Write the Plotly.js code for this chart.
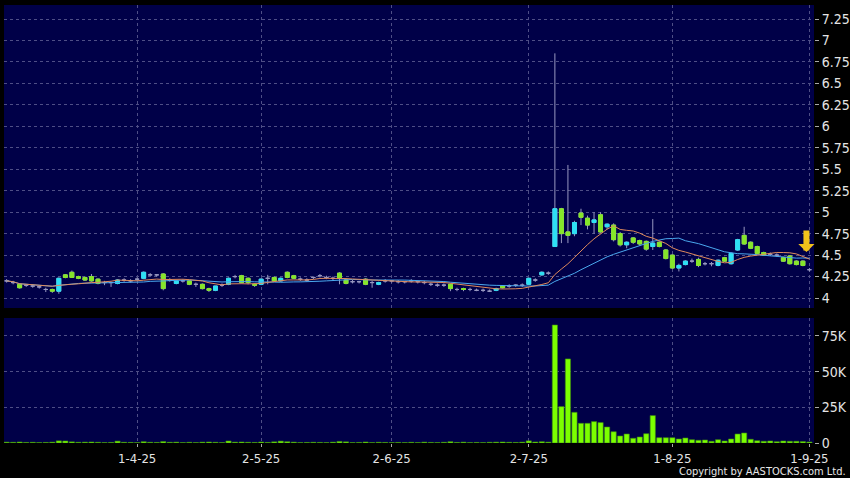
<!DOCTYPE html>
<html><head><meta charset="utf-8">
<script src="https://cdn.plot.ly/plotly-3.0.1.min.js"></script>
<style>html,body{margin:0;padding:0;background:#000;}#chart{width:850px;height:478px;}</style>
</head><body><div id="chart"></div>
<script>
const dates = [
'2025-03-04','2025-03-05','2025-03-06','2025-03-07','2025-03-10','2025-03-11','2025-03-12','2025-03-13','2025-03-14','2025-03-17',
'2025-03-18','2025-03-19','2025-03-20','2025-03-21','2025-03-24','2025-03-25','2025-03-26','2025-03-27','2025-03-28','2025-03-31',
'2025-04-01','2025-04-02','2025-04-03','2025-04-07','2025-04-08','2025-04-09','2025-04-10','2025-04-11','2025-04-14','2025-04-15',
'2025-04-16','2025-04-17','2025-04-22','2025-04-23','2025-04-24','2025-04-25','2025-04-28','2025-04-29','2025-04-30','2025-05-02',
'2025-05-06','2025-05-07','2025-05-08','2025-05-09','2025-05-12','2025-05-13','2025-05-14','2025-05-15','2025-05-16','2025-05-19',
'2025-05-20','2025-05-21','2025-05-22','2025-05-23','2025-05-26','2025-05-27','2025-05-28','2025-05-29','2025-05-30','2025-06-02',
'2025-06-03','2025-06-04','2025-06-05','2025-06-06','2025-06-09','2025-06-10','2025-06-11','2025-06-12','2025-06-13','2025-06-16',
'2025-06-17','2025-06-18','2025-06-19','2025-06-20','2025-06-23','2025-06-24','2025-06-25','2025-06-26','2025-06-27','2025-06-30',
'2025-07-02','2025-07-03','2025-07-04','2025-07-07','2025-07-08','2025-07-09','2025-07-10','2025-07-11','2025-07-14','2025-07-15',
'2025-07-16','2025-07-17','2025-07-18','2025-07-21','2025-07-22','2025-07-23','2025-07-24','2025-07-25','2025-07-28','2025-07-29',
'2025-07-30','2025-07-31','2025-08-01','2025-08-04','2025-08-05','2025-08-06','2025-08-07','2025-08-08','2025-08-11','2025-08-12',
'2025-08-13','2025-08-14','2025-08-15','2025-08-18','2025-08-19','2025-08-20','2025-08-21','2025-08-22','2025-08-25','2025-08-26',
'2025-08-27','2025-08-28','2025-08-29','2025-09-01'];

const open = [
4.20,4.18,4.16,4.15,4.14,4.13,4.10,4.10,4.08,4.27,
4.30,4.25,4.24,4.25,4.22,4.18,4.18,4.17,4.21,4.20,
4.22,4.23,4.27,4.27,4.28,4.21,4.17,4.20,4.20,4.16,
4.16,4.11,4.09,4.15,4.16,4.25,4.26,4.23,4.16,4.16,
4.23,4.24,4.20,4.30,4.26,4.22,4.21,4.24,4.26,4.24,
4.23,4.29,4.21,4.19,4.19,4.22,4.18,4.16,4.20,4.20,
4.19,4.19,4.20,4.19,4.18,4.16,4.15,4.15,4.16,4.10,
4.11,4.10,4.09,4.09,4.08,4.09,4.14,4.14,4.15,4.15,
4.16,4.21,4.27,4.29,4.60,5.04,4.77,4.75,4.99,4.93,
4.88,4.97,4.83,4.85,4.75,4.62,4.70,4.67,4.66,4.60,
4.65,4.56,4.50,4.35,4.39,4.43,4.45,4.40,4.40,4.38,
4.47,4.40,4.56,4.73,4.65,4.60,4.53,4.51,4.50,4.47,
4.49,4.43,4.43,4.33];

const high = [
4.22,4.20,4.17,4.16,4.16,4.15,4.12,4.11,4.24,4.28,
4.32,4.26,4.25,4.28,4.23,4.20,4.19,4.22,4.23,4.22,
4.24,4.31,4.29,4.28,4.29,4.23,4.21,4.22,4.21,4.18,
4.17,4.12,4.14,4.17,4.24,4.27,4.27,4.24,4.17,4.23,
4.27,4.25,4.24,4.31,4.27,4.24,4.23,4.25,4.28,4.26,
4.25,4.30,4.22,4.21,4.20,4.23,4.20,4.19,4.22,4.21,
4.21,4.20,4.22,4.20,4.20,4.18,4.17,4.17,4.17,4.12,
4.12,4.12,4.11,4.11,4.10,4.12,4.15,4.16,4.16,4.17,
4.23,4.23,4.31,4.31,6.85,5.05,5.55,4.90,5.04,4.96,
5.00,5.00,4.87,4.87,4.77,4.66,4.71,4.68,4.67,4.92,
4.66,4.57,4.51,4.40,4.44,4.46,4.47,4.42,4.42,4.45,
4.48,4.53,4.69,4.83,4.66,4.61,4.54,4.53,4.52,4.48,
4.50,4.44,4.44,4.35];

const low = [
4.18,4.16,4.11,4.13,4.12,4.11,4.07,4.06,4.05,4.23,
4.24,4.22,4.20,4.19,4.16,4.15,4.13,4.16,4.19,4.18,
4.20,4.22,4.26,4.25,4.09,4.19,4.16,4.18,4.15,4.13,
4.10,4.07,4.08,4.13,4.15,4.23,4.17,4.16,4.13,4.15,
4.16,4.19,4.19,4.23,4.22,4.20,4.19,4.22,4.24,4.22,
4.21,4.16,4.16,4.17,4.17,4.15,4.12,4.15,4.18,4.18,
4.17,4.17,4.18,4.17,4.16,4.14,4.13,4.13,4.08,4.08,
4.08,4.08,4.08,4.07,4.07,4.08,4.11,4.12,4.13,4.13,
4.15,4.19,4.26,4.27,4.60,4.64,4.64,4.72,4.85,4.80,
4.75,4.76,4.80,4.66,4.60,4.58,4.63,4.61,4.55,4.56,
4.59,4.45,4.34,4.31,4.38,4.41,4.36,4.38,4.37,4.37,
4.42,4.39,4.55,4.62,4.57,4.51,4.49,4.49,4.48,4.42,
4.39,4.38,4.37,4.31];

const close = [
4.20,4.18,4.12,4.15,4.14,4.13,4.10,4.08,4.23,4.24,
4.24,4.23,4.21,4.20,4.17,4.18,4.18,4.21,4.21,4.20,
4.22,4.30,4.27,4.27,4.11,4.21,4.20,4.20,4.16,4.16,
4.11,4.09,4.14,4.15,4.23,4.25,4.18,4.18,4.15,4.22,
4.23,4.20,4.23,4.24,4.23,4.22,4.21,4.24,4.26,4.24,
4.23,4.23,4.17,4.19,4.19,4.16,4.18,4.18,4.20,4.20,
4.19,4.19,4.20,4.19,4.18,4.16,4.15,4.15,4.11,4.10,
4.10,4.10,4.09,4.09,4.08,4.11,4.12,4.14,4.15,4.15,
4.23,4.21,4.30,4.29,5.04,4.75,4.73,4.88,4.94,4.85,
4.91,4.77,4.86,4.68,4.62,4.65,4.65,4.63,4.57,4.64,
4.60,4.46,4.35,4.38,4.43,4.43,4.38,4.40,4.40,4.44,
4.43,4.52,4.68,4.63,4.58,4.52,4.50,4.51,4.50,4.43,
4.40,4.39,4.38,4.33];

const volume = [
600,500,700,400,500,300,400,600,1500,1400,
800,500,600,700,500,300,400,1300,500,400,
300,900,500,400,1000,500,600,300,500,300,
600,700,500,300,1400,600,700,500,400,700,
400,800,1300,900,600,300,400,500,400,300,
600,1100,800,300,400,700,300,500,400,300,
400,300,500,300,600,400,300,500,900,400,
600,300,400,300,500,600,700,500,400,600,
1500,700,900,600,82700,25500,58900,21500,13800,13800,
15000,14300,11200,7900,4900,6300,3300,4200,6500,19200,
3700,3700,3700,2800,3500,2300,1900,2100,1200,2300,
1400,2800,6300,7000,2600,1600,1200,1400,900,1400,
1200,1200,1000,700];

const tickDates = ['2025-04-01','2025-05-02','2025-06-02','2025-07-02','2025-08-01','2025-09-01'];
const tickLabels = ['1-4-25','2-5-25','2-6-25','2-7-25','1-8-25','1-9-25'];
const priceTicks = [4,4.25,4.5,4.75,5,5.25,5.5,5.75,6,6.25,6.5,6.75,7,7.25];
const priceLabels = ['4','4.25','4.5','4.75','5','5.25','5.5','5.75','6','6.25','6.5','6.75','7','7.25'];
const volTicks = [0,25000,50000,75000];
const volLabels = ['0','25K','50K','75K'];
const maShort = 10, maLong = 20;

function movingAvg(arr, n){
  const out = [];
  for(let i=0;i<arr.length;i++){
    const s = Math.max(0, i-n+1);
    let sum = 0; for(let j=s;j<=i;j++) sum += arr[j];
    out.push(sum/(i-s+1));
  }
  return out;
}
function subset(pred){
  const idx=[]; for(let i=0;i<dates.length;i++) if(pred(i)) idx.push(i);
  return {x:idx.map(i=>dates[i]), o:idx.map(i=>open[i]), h:idx.map(i=>high[i]), l:idx.map(i=>low[i]), c:idx.map(i=>close[i])};
}
const WICK = '#9898c0';
function candles(s, col, bodyOnly){
  const lc = bodyOnly ? col : WICK;
  return {type:'candlestick', x:s.x, open:s.o, close:s.c,
    high: bodyOnly ? s.o.map((v,k)=>Math.max(v,s.c[k])) : s.h,
    low: bodyOnly ? s.o.map((v,k)=>Math.min(v,s.c[k])) : s.l,
    xaxis:'x', yaxis:'y', whiskerwidth:0, hoverinfo:'skip', showlegend:false,
    increasing:{fillcolor:col, line:{color:lc, width:1}},
    decreasing:{fillcolor:col, line:{color:lc, width:1}}};
}
const up = subset(i=>close[i]>open[i]);
const dn = subset(i=>close[i]<open[i]);
const fl = subset(i=>close[i]===open[i]);
const UPC = '#2ee0f4', DNC = '#86e62a';

const traces = [
  {type:'bar', x:dates, y:volume, xaxis:'x2', yaxis:'y2', marker:{color:'#7cff00', line:{color:'#3c8a10', width:0.6}}, hoverinfo:'skip', showlegend:false},
  candles(up, UPC, false), candles(dn, DNC, false), candles(fl, WICK, false),
  candles(up, UPC, true), candles(dn, DNC, true),
  {type:'scatter', mode:'lines', x:dates, y:movingAvg(close, maLong), xaxis:'x', yaxis:'y', line:{color:'#4aa8ee', width:1}, hoverinfo:'skip', showlegend:false},
  {type:'scatter', mode:'lines', x:dates, y:movingAvg(close, maShort), xaxis:'x', yaxis:'y', line:{color:'#e08a5c', width:1}, hoverinfo:'skip', showlegend:false}
];

const FONT = 'Liberation Sans Narrow, DejaVu Sans Condensed, Arial Narrow, sans-serif';
const GRID = '#4e4e86';
const xr = [-0.4, 123.7];
const TF = {family:FONT, size:14, color:'#e4e4e4'};
const XF = {family:FONT, size:13, color:'#e4e4e4'};
const xcommon = {type:'category', categoryorder:'array', categoryarray:dates, range:xr,
  tickvals:tickDates, ticktext:tickLabels, showgrid:true, gridcolor:GRID, griddash:'3px,3px', gridwidth:1,
  zeroline:false, showline:false, rangeslider:{visible:false}, fixedrange:true};
const layout = {
  width:850, height:478, paper_bgcolor:'#000', plot_bgcolor:'#000048',
  margin:{l:4, r:36, t:5, b:35}, showlegend:false, boxgap:0.14,
  font:{family:FONT, size:12, color:'#e4e4e4'},
  xaxis:Object.assign({}, xcommon, {anchor:'y', showticklabels:false, ticks:''}),
  xaxis2:Object.assign({}, xcommon, {anchor:'y2', showticklabels:true, ticks:'outside', ticklen:3, tickcolor:'#aaaaaa', tickfont:XF}),
  yaxis:{domain:[0.3082,1], side:'right', anchor:'x', range:[3.884,7.413], tickvals:priceTicks, ticktext:priceLabels,
    ticks:'outside', ticklen:4, tickcolor:'#aaaaaa', showgrid:true, gridcolor:GRID, griddash:'3px,3px', zeroline:false, showline:false, fixedrange:true,
    tickfont:TF},
  yaxis2:{domain:[0,0.2854], side:'right', anchor:'x2', range:[0,87600], tickvals:volTicks, ticktext:volLabels,
    ticks:'outside', ticklen:4, tickcolor:'#aaaaaa', showgrid:true, gridcolor:GRID, griddash:'3px,3px', zeroline:false, showline:false, fixedrange:true,
    tickfont:TF},
  annotations:[
    {xref:'paper', yref:'paper', x:1.0407, y:-0.0799, xanchor:'right', yanchor:'bottom', yshift:-1, showarrow:false,
     borderpad:0, text:'Copyright by AASTOCKS.com Ltd.', font:{family:FONT, size:11, color:'#e8e8e8'}},
    {xref:'x', yref:'y', x:dates[dates.length-1], y:4.536, xshift:-3, ax:0, ay:-23, showarrow:true,
     arrowhead:1, arrowwidth:6, arrowsize:0.45, arrowcolor:'#f2c21b', text:''}
  ]
};
Plotly.newPlot('chart', traces, layout, {staticPlot:true, displayModeBar:false});
</script></body></html>
